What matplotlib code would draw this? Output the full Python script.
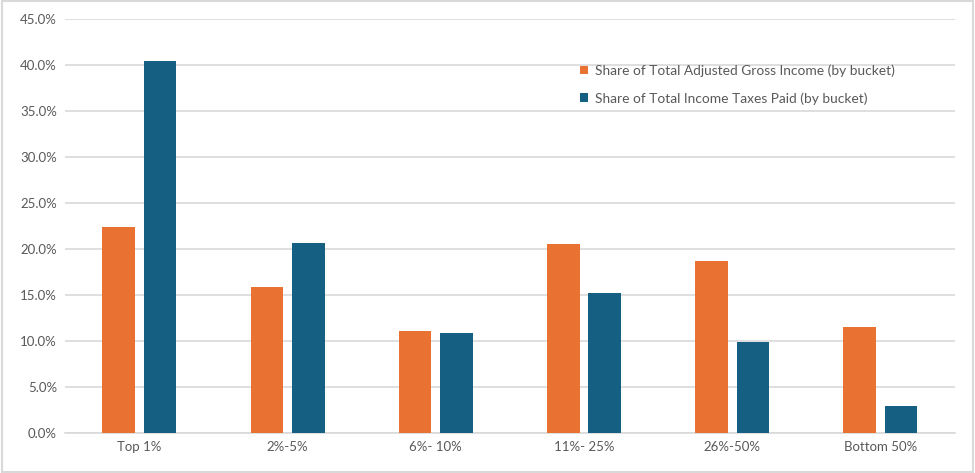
import numpy as np
import matplotlib
matplotlib.use("Agg")
from matplotlib import pyplot as plt
from matplotlib.ticker import FuncFormatter
from matplotlib.patches import Rectangle

categories = ["Top 1%", "2%-5%", "6%- 10%", "11%- 25%", "26%-50%", "Bottom 50%"]
agi_share = [22.4, 15.8, 11.1, 20.5, 18.7, 11.5]
tax_share = [40.4, 20.6, 10.9, 15.2, 9.9, 2.9]
series_names = ["Share of Total Adjusted Gross Income (by bucket)",
                "Share of Total Income Taxes Paid (by bucket)"]

orange = "#E97132"
blue = "#156082"
grey = "#595959"

plt.rcParams['font.family'] = ['Lato', 'DejaVu Sans']

fig = plt.figure(figsize=(9.75, 4.73), dpi=100)
ax = fig.add_axes([0.067, 0.085, 0.912, 0.875])

x = np.arange(len(categories))
w = 0.22
gap = 0.06
ax.bar(x - (w + gap) / 2, agi_share, w, color=orange, label=series_names[0], zorder=3)
ax.bar(x + (w + gap) / 2, tax_share, w, color=blue, label=series_names[1], zorder=3)

ax.set_ylim(0, 45)
ax.set_xlim(-0.5, len(categories) - 0.5)
ax.set_yticks(np.arange(0, 46, 5))
ax.yaxis.set_major_formatter(FuncFormatter(lambda v, p: f"{v:.1f}%"))
ax.grid(axis="y", color="#D9D9D9", linewidth=1.2, zorder=0)
for s in ["top", "right", "left"]:
    ax.spines[s].set_visible(False)
ax.spines["bottom"].set_color("#D9D9D9")
ax.spines["bottom"].set_linewidth(1.2)
ax.tick_params(axis="both", length=0, colors=grey, labelsize=9.5, pad=6)
ax.set_xticks(x)
ax.set_xticklabels(categories)

leg = ax.legend(loc="upper left", bbox_to_anchor=(0.565, 0.92), frameon=False,
                fontsize=9.9, handlelength=0.6, handleheight=0.6,
                handletextpad=0.5, labelspacing=1.1)
for t in leg.get_texts():
    t.set_color(grey)

# outer chart frame
fig.patches.append(Rectangle((0.002, 0.003), 0.996, 0.994, transform=fig.transFigure,
                             fill=False, edgecolor="#D9D9D9", linewidth=1.5))

fig.savefig("out.png", dpi=100)
